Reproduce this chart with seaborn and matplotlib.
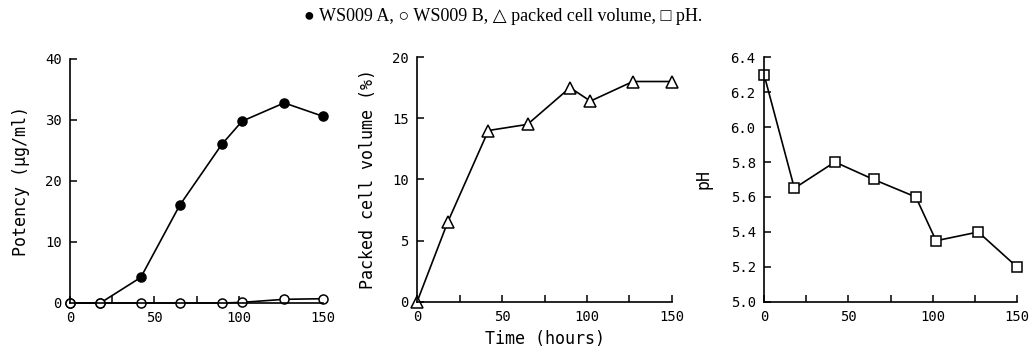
import matplotlib
matplotlib.use("Agg")
import matplotlib.pyplot as plt
import seaborn as sns
import numpy as np

# ---- data ----
time_h = [0, 18, 42, 65, 90, 102, 127, 150]
ws009_a = [0, 0, 4.2, 16.0, 26.0, 29.8, 32.8, 30.6]
ws009_b = [0, 0, 0, 0, 0, 0.1, 0.6, 0.7]
pcv = [0, 6.5, 14.0, 14.5, 17.5, 16.4, 18.0, 18.0]
ph = [6.3, 5.65, 5.8, 5.7, 5.6, 5.35, 5.4, 5.2]

x_ticks = [0, 25, 50, 75, 100, 125, 150]
x_labels = ["0", "", "50", "", "100", "", "150"]

sns.set_style("ticks")
plt.rcParams["font.family"] = ["DejaVu Sans Mono"]
plt.rcParams["axes.edgecolor"] = "black"
plt.rcParams["axes.linewidth"] = 1.2
plt.rcParams["text.color"] = "black"
plt.rcParams["axes.labelcolor"] = "black"

fig = plt.figure(figsize=(10.34, 3.57), dpi=100)
ax1 = fig.add_axes([0.0677, 0.1513, 0.2447, 0.6835])
ax2 = fig.add_axes([0.4033, 0.1541, 0.2466, 0.6862])
ax3 = fig.add_axes([0.7389, 0.1541, 0.2447, 0.6862])

lkw = dict(color="black", linewidth=1.2, markersize=6.5, markeredgecolor="black",
           markeredgewidth=1.1, clip_on=False)

sns.lineplot(x=time_h, y=ws009_a, ax=ax1, marker="o", markerfacecolor="black", **lkw)
sns.lineplot(x=time_h, y=ws009_b, ax=ax1, marker="o", markerfacecolor="white", **lkw)
sns.lineplot(x=time_h, y=pcv, ax=ax2, marker="^", markerfacecolor="white", **dict(lkw, markersize=8))
sns.lineplot(x=time_h, y=ph, ax=ax3, marker="s", markerfacecolor="white", **lkw)

ylims = [(0, 40), (0, 20), (5.0, 6.4)]
yticks = [[0, 10, 20, 30, 40], [0, 5, 10, 15, 20], [5.0, 5.2, 5.4, 5.6, 5.8, 6.0, 6.2, 6.4]]
for ax, yl, yt in zip([ax1, ax2, ax3], ylims, yticks):
    ax.set_xlim(0, 150)
    ax.set_ylim(*yl)
    ax.set_xticks(x_ticks)
    ax.set_xticklabels(x_labels)
    ax.set_yticks(yt)
    for s in ["top", "right"]:
        ax.spines[s].set_visible(False)
    ax.tick_params(direction="in", length=5, width=1.1, labelsize=10, pad=6, colors="black")
    ax.set_xlabel("")
ax3.set_yticklabels([f"{v:.1f}" for v in yticks[2]])

ax1.set_ylabel("Potency (µg/ml)", fontsize=12, labelpad=11, color="black")
ax2.set_ylabel("Packed cell volume (%)", fontsize=12, labelpad=11, color="black")
ax3.set_ylabel("pH", fontsize=12, labelpad=13, color="black")
ax2.set_xlabel("Time (hours)", fontsize=12, labelpad=4, color="black")

fig.text(0.487, 0.955, "● WS009 A, ○ WS009 B, △ packed cell volume, □ pH.",
         ha="center", va="center", fontsize=13, color="black",
         family=["Liberation Serif", "DejaVu Sans"])

fig.savefig("out.png", dpi=100)
